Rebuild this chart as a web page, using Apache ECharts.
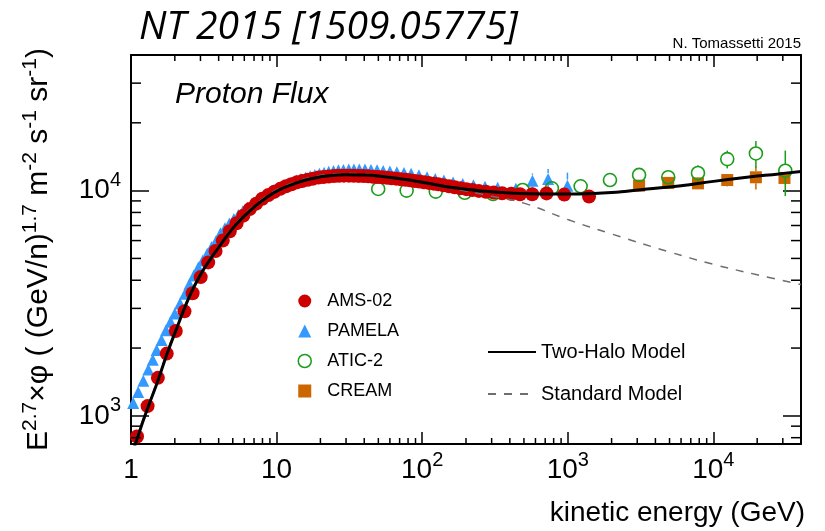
<!DOCTYPE html>
<html>
<head>
<meta charset="utf-8">
<script src="https://cdn.jsdelivr.net/npm/echarts@6/dist/echarts.min.js"></script>
<style>
  html, body { margin: 0; padding: 0; background: #fff; }
  #chart { width: 825px; height: 531px; }
</style>
</head>
<body>
<div id="chart"></div>
<script>
// Proton flux multiplied by E^2.7, compared with two propagation models.

// Axis ranges
const X_MIN = 1, X_MAX = 40000;
const Y_MIN = 750, Y_MAX = 40000;

// Decade tick labels
const xDecadeLabels = ['1', '10', '10{sup|2}', '10{sup|3}', '10{sup|4}'];
const yDecadeLabels = ['', '', '', '10{sup|3}', '10{sup|4}'];

// Minor tick positions
const xMinorTicks = [2, 3, 4, 5, 6, 7, 8, 9,
  20, 30, 40, 50, 60, 70, 80, 90,
  200, 300, 400, 500, 600, 700, 800, 900,
  2000, 3000, 4000, 5000, 6000, 7000, 8000, 9000,
  20000, 30000];
const yMinorTicks = [800, 900, 2000, 3000, 4000, 5000, 6000, 7000, 8000, 9000, 20000, 30000];

// AMS-02
const amsEnergy = [1.10, 1.30, 1.53, 1.76, 2.03, 2.33, 2.65, 3.01, 3.39, 3.81,
  4.27, 4.77, 5.31, 5.91, 6.54, 7.24, 7.98, 8.79, 9.65, 10.6,
  11.6, 12.65, 13.8, 15.0, 16.4, 17.8, 19.4, 21.0, 22.8, 24.8,
  26.8, 29.0, 31.4, 33.9, 36.6, 39.5, 42.6, 45.9, 49.4, 53.2,
  57.3, 61.6, 66.3, 71.4, 76.8, 82.6, 88.8, 95.6, 103, 111,
  120, 129, 140, 153, 167, 183, 201, 221, 245, 274,
  310, 354, 409, 470, 570, 715, 946, 1400];
const amsFlux = [810, 1105, 1475, 1890, 2380, 2910, 3500, 4130, 4800, 5390,
  6000, 6600, 7160, 7740, 8280, 8750, 9200, 9560, 9880, 10180,
  10450, 10680, 10880, 11020, 11180, 11300, 11420, 11500, 11560, 11610,
  11640, 11650, 11650, 11640, 11620, 11600, 11570, 11530, 11490, 11450,
  11400, 11350, 11300, 11240, 11180, 11110, 11040, 10970, 10900, 10820,
  10740, 10660, 10560, 10460, 10350, 10250, 10150, 10060, 9970, 9880,
  9800, 9730, 9680, 9640, 9640, 9720, 9600, 9420];

// PAMELA
const pamelaEnergy = [1.035, 1.12, 1.215, 1.315, 1.41, 1.50, 1.62, 1.74, 1.87, 2.00,
  2.17, 2.35, 2.52, 2.70, 2.90, 3.11, 3.34, 3.58, 3.84, 4.12,
  4.42, 4.74, 5.09, 5.46, 5.86, 6.29, 6.75, 7.24, 7.77, 8.34,
  8.95, 9.60, 10.3, 11.1, 11.9, 12.8, 13.7, 14.7, 15.8, 17.0,
  18.3, 19.7, 21.2, 22.8, 24.6, 26.6, 28.8, 31.3, 34.0, 37.0,
  40.5, 44.5, 49.0, 54.0, 60.0, 67.0, 75.0, 84.0, 95.0, 108,
  123, 141, 163, 190, 225, 270, 330, 440, 572, 733, 995];
const pamelaFlux = [1140, 1275, 1430, 1605, 1775, 1960, 2170, 2400, 2615, 2850,
  3150, 3480, 3850, 4200, 4560, 4900, 5250, 5620, 5980, 6460,
  6810, 7140, 7480, 7790, 8090, 8390, 8690, 8980, 9260, 9540,
  9790, 10050, 10280, 10500, 10690, 10890, 11080, 11250, 11410, 11580,
  11730, 11870, 12000, 12120, 12230, 12300, 12350, 12400, 12420, 12420,
  12400, 12350, 12300, 12230, 12150, 12070, 11980, 11870, 11690, 11470,
  11260, 11080, 10870, 10700, 10550, 10410, 10290, 10200, 11070, 11270, 10520];
const pamelaErrEnergy = [572, 733, 995];
const pamelaErr = [850, 1200, 1500];

// ATIC-2
const aticEnergy = [49.9, 78.2, 124, 196, 307, 490, 778, 1226, 1950, 3090, 4900, 7840, 12460, 19600, 31200];
const aticFlux = [10170, 10000, 9900, 9780, 9660, 10070, 10240, 10450, 11140, 11740, 11460, 11970, 13800, 14620, 12260];
const aticErr = [150, 150, 150, 200, 250, 300, 350, 400, 500, 550, 700, 1000, 1250, 2000, 2800];

// CREAM
const creamEnergy = [3090, 4900, 7840, 12460, 19600, 30800];
const creamFlux = [10520, 10820, 10770, 11140, 11460, 11380];
const creamErr = [250, 350, 600, 700, 1350, 700];

// Two-Halo model
const twoHaloEnergy = [1.0, 1.1, 1.3, 1.5, 1.75, 2.0, 2.5, 3.0, 3.5, 4.0,
  5.0, 6.0, 7.3, 8.5, 10.5, 14.5, 18, 22, 30, 40,
  50, 70, 87, 100, 147, 200, 250, 420, 700, 1200,
  2000, 3500, 6000, 10000, 17000, 28000, 40000];
const twoHaloFlux = [650, 790, 1080, 1380, 1850, 2330, 3350, 4230, 4950, 5600,
  6800, 7700, 8650, 9300, 10100, 10950, 11350, 11600, 11750, 11720,
  11600, 11300, 11070, 10900, 10400, 10150, 9970, 9730, 9660, 9660,
  9800, 10170, 10520, 10990, 11460, 11860, 12170];

// Standard model
const standardEnergy = [1.0, 1.1, 1.3, 1.5, 1.75, 2.0, 2.5, 3.0, 3.5, 4.0,
  5.0, 6.0, 7.3, 8.5, 10.5, 14.5, 18, 22, 30, 40,
  50, 70, 100, 150, 200, 300, 500, 1000, 2000, 5000,
  10000, 20000, 40000];
const standardFlux = [670, 810, 1100, 1400, 1880, 2370, 3400, 4290, 5020, 5680,
  6900, 7820, 8780, 9440, 10250, 11110, 11520, 11770, 11900, 11850,
  11700, 11350, 10900, 10350, 9950, 9450, 8800, 7440, 6420, 5340,
  4706, 4230, 3830];

const SANS = '"Liberation Sans", Arial, Helvetica, sans-serif';
const COLORS = { ams: '#cc0000', pamela: '#3399ff', atic: '#1a9e1a', cream: '#cc6600' };

const pairs = (xs, ys) => xs.map((x, i) => [x, ys[i]]);

function decadeFormatter(labels) {
  return function (v) {
    const p = Math.log10(v);
    const r = Math.round(p);
    if (Math.abs(p - r) > 1e-6) return '';
    return labels[r] || '';
  };
}

// Vertical error bar that stops at the marker edge
function errorBars(radius, color, width) {
  return function (params, api) {
    const x = api.value(0);
    const c = api.coord([x, api.value(1)]);
    const lo = api.coord([x, api.value(2)]);
    const hi = api.coord([x, api.value(3)]);
    const children = [];
    if (c[1] - radius > hi[1]) {
      children.push({ type: 'line', shape: { x1: c[0], y1: hi[1], x2: c[0], y2: c[1] - radius },
        style: { stroke: color, lineWidth: width } });
    }
    if (lo[1] > c[1] + radius) {
      children.push({ type: 'line', shape: { x1: c[0], y1: c[1] + radius, x2: c[0], y2: lo[1] },
        style: { stroke: color, lineWidth: width } });
    }
    return { type: 'group', children: children };
  };
}

function errorData(xs, ys, errs) {
  return xs.map((x, i) => [x, ys[i], ys[i] - errs[i], ys[i] + errs[i]]);
}

const pamelaErrData = pamelaErrEnergy.map((e, i) => {
  const f = pamelaFlux[pamelaEnergy.indexOf(e)];
  return [e, f, f - pamelaErr[i], f + pamelaErr[i]];
});

// Minor ticks on the four sides of the frame
function minorTicksX(params, api) {
  const v = api.value(0);
  const b = api.coord([v, Y_MIN]);
  const t = api.coord([v, Y_MAX]);
  const st = { stroke: '#000', lineWidth: 1.5 };
  return { type: 'group', children: [
    { type: 'line', shape: { x1: b[0], y1: b[1], x2: b[0], y2: b[1] - 6 }, style: st },
    { type: 'line', shape: { x1: t[0], y1: t[1], x2: t[0], y2: t[1] + 6 }, style: st }
  ] };
}
function minorTicksY(params, api) {
  const v = api.value(1);
  const l = api.coord([X_MIN, v]);
  const r = api.coord([X_MAX, v]);
  const st = { stroke: '#000', lineWidth: 1.5 };
  return { type: 'group', children: [
    { type: 'line', shape: { x1: l[0], y1: l[1], x2: l[0] + 10, y2: l[1] }, style: st },
    { type: 'line', shape: { x1: r[0], y1: r[1], x2: r[0] - 10, y2: r[1] }, style: st }
  ] };
}

const supStyle = { fontSize: 20, fontFamily: SANS, color: '#000', padding: [0, 0, 20, 0] };

function logAxisX(position, showLabel) {
  return {
    type: 'log', logBase: 10, min: X_MIN, max: X_MAX, position: position,
    axisLine: { show: true, onZero: false, lineStyle: { color: '#000', width: 2 } },
    axisTick: { show: true, inside: true, length: 12, lineStyle: { color: '#000', width: 1.5 } },
    axisLabel: showLabel ? {
      show: true, margin: 6, color: '#000', fontFamily: SANS, fontSize: 28, lineHeight: 40,
      formatter: decadeFormatter(xDecadeLabels), rich: { sup: supStyle }
    } : { show: false },
    splitLine: { show: false }
  };
}
function logAxisY(position, showLabel) {
  return {
    type: 'log', logBase: 10, min: Y_MIN, max: Y_MAX, position: position,
    axisLine: { show: true, onZero: false, lineStyle: { color: '#000', width: 2 } },
    axisTick: { show: true, inside: true, length: 18, lineStyle: { color: '#000', width: 1.5 } },
    axisLabel: showLabel ? {
      show: true, margin: 10, color: '#000', fontFamily: SANS, fontSize: 28, lineHeight: 40,
      formatter: decadeFormatter(yDecadeLabels), rich: { sup: supStyle }
    } : { show: false },
    splitLine: { show: false }
  };
}

const xBottom = logAxisX('bottom', true);
xBottom.name = 'kinetic energy (GeV)';
xBottom.nameLocation = 'end';
xBottom.nameGap = 0;
xBottom.nameTextStyle = { fontFamily: SANS, fontSize: 28, color: '#000', align: 'right', verticalAlign: 'top', padding: [55, -4, 0, 0] };

const yLeft = logAxisY('left', true);
yLeft.name = 'E{sup|2.7}×φ ( (GeV/n){sup|1.7} m{sup|-2} s{sup|-1} sr{sup|-1})';
yLeft.nameLocation = 'middle';
yLeft.nameRotate = 90;
yLeft.nameGap = 72;
yLeft.nameTextStyle = {
  fontFamily: SANS, fontSize: 30, color: '#000', lineHeight: 40,
  rich: { sup: { fontSize: 21, fontFamily: SANS, color: '#000', padding: [0, 0, 18, 0] } }
};

const chart = echarts.init(document.getElementById('chart'), null, { renderer: 'canvas' });

chart.setOption({
  animation: false,
  backgroundColor: '#fff',
  title: [
    { text: 'NT 2015 [1509.05775]', left: 139, top: 8, padding: 0,
      textStyle: { fontFamily: '"Open Sans", sans-serif', fontStyle: 'italic', fontWeight: 'normal', fontSize: 39, color: '#000' } },
    { text: 'Proton Flux', left: 175, top: 80, padding: 0,
      textStyle: { fontFamily: SANS, fontStyle: 'italic', fontWeight: 'normal', fontSize: 30, color: '#000' } },
    { text: 'N. Tomassetti 2015', right: 24, top: 36, padding: 0,
      textStyle: { fontFamily: SANS, fontWeight: 'normal', fontSize: 15, color: '#000' } }
  ],
  grid: { left: 131, right: 24, top: 55, bottom: 87, containLabel: false, outerBoundsMode: 'none' },
  xAxis: [xBottom, logAxisX('top', false)],
  yAxis: [yLeft, logAxisY('right', false)],
  legend: [
    {
      data: ['AMS-02', 'PAMELA', { name: 'ATIC-2', itemStyle: { borderWidth: 1.5 } }, 'CREAM'],
      orient: 'vertical', left: 297.5, top: 292, padding: 0,
      itemWidth: 13, itemHeight: 13, itemGap: 12, selectedMode: false,
      textStyle: { fontFamily: SANS, fontSize: 18, color: '#000', padding: [0, 0, 0, 11] }
    },
    {
      data: [
        { name: 'Two-Halo Model', itemStyle: { opacity: 0 } },
        { name: 'Standard Model', itemStyle: { opacity: 0 } }
      ],
      orient: 'vertical', left: 487, top: 342, padding: 0,
      itemWidth: 48, itemHeight: 14, itemGap: 22, selectedMode: false,
      textStyle: { fontFamily: SANS, fontSize: 20, color: '#000' }
    }
  ],
  series: [
    { type: 'custom', name: 'xMinor', silent: true, xAxisIndex: 0, yAxisIndex: 0, z: 10,
      renderItem: minorTicksX, data: xMinorTicks.map(v => [v, Y_MIN]) },
    { type: 'custom', name: 'yMinor', silent: true, xAxisIndex: 0, yAxisIndex: 0, z: 10,
      renderItem: minorTicksY, data: yMinorTicks.map(v => [X_MIN, v]) },

    { type: 'custom', name: 'CREAM errors', silent: true, z: 2,
      renderItem: errorBars(6, COLORS.cream, 1.5), data: errorData(creamEnergy, creamFlux, creamErr) },
    { type: 'scatter', name: 'CREAM', symbol: 'rect', symbolSize: 12, z: 2,
      itemStyle: { color: COLORS.cream, opacity: 1 }, data: pairs(creamEnergy, creamFlux) },

    { type: 'custom', name: 'PAMELA errors', silent: true, z: 3,
      renderItem: errorBars(6, COLORS.pamela, 1.5), data: pamelaErrData },
    { type: 'scatter', name: 'PAMELA', symbol: 'triangle', symbolSize: 12, z: 3,
      itemStyle: { color: COLORS.pamela, opacity: 1 }, data: pairs(pamelaEnergy, pamelaFlux) },

    { type: 'custom', name: 'ATIC-2 errors', silent: true, z: 3,
      renderItem: errorBars(6.5, COLORS.atic, 1.5), data: errorData(aticEnergy, aticFlux, aticErr) },
    { type: 'scatter', name: 'ATIC-2', symbol: 'circle', symbolSize: 13, z: 3,
      itemStyle: { color: 'rgba(255,255,255,0)', borderColor: COLORS.atic, borderWidth: 1.6, opacity: 1 },
      data: pairs(aticEnergy, aticFlux) },

    { type: 'scatter', name: 'AMS-02', symbol: 'circle', symbolSize: 14, z: 4,
      itemStyle: { color: COLORS.ams, opacity: 1 }, data: pairs(amsEnergy, amsFlux) },

    { type: 'line', name: 'Standard Model', showSymbol: false, symbol: 'none', smooth: 0.4, z: 5,
      lineStyle: { color: '#6e6e6e', width: 1.5, type: [8, 8] }, itemStyle: { color: '#6e6e6e' },
      data: pairs(standardEnergy, standardFlux) },
    { type: 'line', name: 'Two-Halo Model', showSymbol: false, symbol: 'none', smooth: 0.4, z: 6,
      lineStyle: { color: '#000', width: 3 }, itemStyle: { color: '#000' },
      data: pairs(twoHaloEnergy, twoHaloFlux) }
  ]
});
</script>
</body>
</html>
